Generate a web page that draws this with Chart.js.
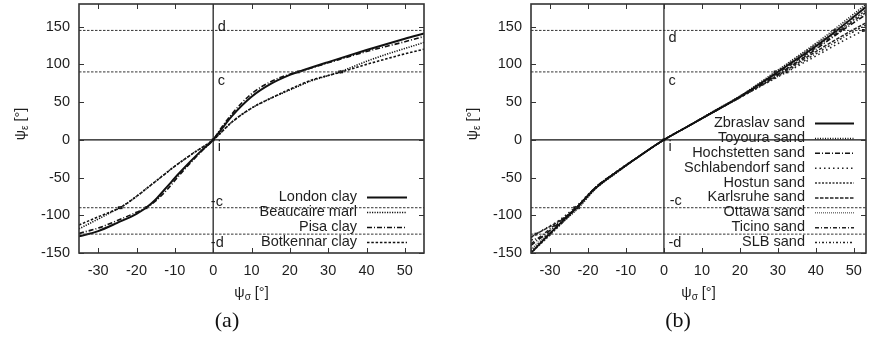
<!DOCTYPE html>
<html><head><meta charset="utf-8">
<script src="https://cdn.jsdelivr.net/npm/chart.js@4/dist/chart.umd.min.js"></script>
<style>
html,body{margin:0;padding:0;background:#fff;width:870px;height:342px;overflow:hidden}
canvas{position:absolute;top:0}
#ca{left:0}#cb{left:435px}
</style></head><body>
<canvas id="ca" width="435" height="342"></canvas>
<canvas id="cb" width="435" height="342"></canvas>
<script>
// ---- data ----
const xTicks = [-30,-20,-10,0,10,20,30,40,50];
const yTicks = [-150,-100,-50,0,50,100,150];
const xRangeA = [-35,55];
const xRangeB = [-35,53.2];
const yRange = [-150,180];
const refLevels = [145,90,-90,-125];

const clayNames = ['London clay','Beaucaire marl','Pisa clay','Botkennar clay'];
const londonClay = [[-35,-128],[-30,-121],[-25,-110],[-20,-98],[-17.5,-90],[-15,-79],[-12,-62],[-9,-45],[-6,-29],[-3,-14],[0,0],[2,13],[5,32],[10,57],[15,74],[20,86],[22.2,90],[30,103],[40,119],[50,134],[55,141]];
const beaucaireMarl = [[-35,-118],[-30,-105],[-27,-97],[-24,-89],[-20,-75],[-17.5,-65],[-15,-55],[-10,-35],[-5,-17],[0,0],[5,24],[10,42],[15,55],[20,66],[25,77],[33,90],[40,104],[45,113],[50,121],[55,129]];
const pisaClay = [[-35,-124],[-30,-117],[-25,-107],[-20,-96],[-17.5,-90],[-15,-81],[-12,-66],[-9,-48],[-6,-31],[-3,-15],[0,0],[2,15],[5,35],[10,61],[15,77],[20,87],[22.2,90],[30,102],[40,117],[50,130],[55,137]];
const botkennarClay = [[-35,-113],[-30,-102],[-27,-96],[-24,-89],[-20,-75],[-17.5,-65],[-15,-55],[-10,-35],[-5,-17],[0,0],[5,24],[10,42],[15,55],[20,67],[25,78],[33.5,90],[40,100],[45,107],[50,114],[55,120]];
const clayMarkers = [[-24.5,-90],[-24,-90],[-17.5,-90],[0,0],[22.2,90],[33,90],[33.5,90]];

const sandNames = ['Zbraslav sand','Toyoura sand','Hochstetten sand','Schlabendorf sand','Hostun sand','Karlsruhe sand','Ottawa sand','Ticino sand','SLB sand'];
const zbraslavSand = [[-35,-150],[-30,-124],[-23,-90],[-18,-64],[-12,-41],[-6,-20],[0,0],[6,17],[12,34],[20,57],[30,90],[40,124],[45,143],[50,163],[53.2,176]];
const toyouraSand = [[-35,-147],[-30.2,-125],[-22.5,-90],[-18,-65],[-12,-42],[-6,-20],[0,0],[6,17],[12,35],[20,58],[29.3,90],[40,128],[44.5,145],[50,167],[53.2,180]];
const hochstettenSand = [[-35,-140],[-30,-120],[-23,-90],[-18,-63],[-12,-41],[-6,-20],[0,0],[6,17],[12,34],[20,57],[31,90],[40,120],[47,145],[53.2,166]];
const schlabendorfSand = [[-35,-130],[-33.7,-125],[-28,-108],[-23.5,-90],[-18,-63],[-12,-40],[-6,-20],[0,0],[6,17],[12,34],[20,56],[32.4,90],[40,111],[46,128],[52.5,145],[53.2,147]];
const hostunSand = [[-35,-150],[-30,-126],[-23,-90],[-18,-64],[-12,-41],[-6,-20],[0,0],[6,17],[12,34],[20,57],[30,90],[40,126],[46,145],[53.2,172]];
const karlsruheSand = [[-35,-129],[-33.7,-125],[-28,-109],[-23,-90],[-18,-63],[-12,-41],[-6,-20],[0,0],[6,17],[12,34],[20,56],[31.5,90],[40,117],[49.5,145],[53.2,155]];
const ottawaSand = [[-35,-145],[-30,-122],[-22.5,-90],[-18,-65],[-12,-42],[-6,-20],[0,0],[6,17],[12,35],[20,58],[29.5,90],[40,127],[45,145],[53.2,178]];
const ticinoSand = [[-35,-138],[-30,-118],[-23,-90],[-18,-64],[-12,-41],[-6,-20],[0,0],[6,17],[12,34],[20,57],[30.5,90],[40,122],[46.5,145],[53.2,169]];
const slbSand = [[-35,-133],[-30.2,-125],[-23,-90],[-18,-63],[-12,-41],[-6,-20],[0,0],[6,17],[12,34],[20,56],[32,90],[40,114],[50.5,145],[53.2,152]];
const sandMarkers = [[-33.7,-125],[-30.2,-125],[-23.5,-90],[-22.5,-90],[0,0],[29.3,90],[32.4,90],[45,145],[46.5,145],[52.5,145]];

const pointLabelsA = [['d',1.2,150],['c',1.2,78],['i',1.2,-10],['-c',-0.6,-82],['-d',-0.6,-137]];
const pointLabelsB = [['d',1.2,135],['c',1.2,78],['i',1.2,-10],['-c',1.5,-81],['-d',1.2,-137]];

// ---- styles ----
const FONT = '"Liberation Sans", Arial, sans-serif';
const TXT = '#1e1e1e';
const clayStyles = [
  {dash:[], w:2},
  {dash:[1.2,1.3], w:1.6},
  {dash:[5,2,1,2], w:1.6},
  {dash:[2.5,1.8], w:1.6}
];
const sandStyles = [
  {dash:[], w:1.8, c:'#111'},
  {dash:[1,1.5], w:1.5, c:'#111'},
  {dash:[5,2,1,2], w:1.5, c:'#111'},
  {dash:[1.5,3], w:1.5, c:'#222'},
  {dash:[2,1.5], w:1.5, c:'#333'},
  {dash:[3.5,1.5], w:1.5, c:'#222'},
  {dash:[1,1], w:1.5, c:'#777'},
  {dash:[4,2,1,2], w:1.5, c:'#222'},
  {dash:[2,2,1,2], w:1.5, c:'#222'}
];

const toXY = arr => arr.map(p => ({x:p[0], y:p[1]}));

function refDatasets(xr){
  const ds = refLevels.map(v => ({data:toXY([[xr[0],v],[xr[1],v]]), borderColor:'#333', borderWidth:1, borderDash:[2.5,1.5], showLine:true, pointRadius:0, tension:0}));
  ds.push({data:toXY([[xr[0],0],[xr[1],0]]), borderColor:'#111', borderWidth:1.2, showLine:true, pointRadius:0});
  ds.push({data:toXY([[0,yRange[0]],[0,yRange[1]]]), borderColor:'#111', borderWidth:1.2, showLine:true, pointRadius:0});
  return ds;
}
function curveDatasets(series, names, styles){
  return series.map((s,i) => ({label:names[i], data:toXY(s), borderColor:styles[i].c||'#111', borderWidth:styles[i].w, borderDash:styles[i].dash, showLine:true, pointRadius:0, cubicInterpolationMode:'monotone', isCurve:true}));
}
function markerDataset(m){
  return {data:toXY(m), showLine:false, pointStyle:'rect', pointRadius:2, backgroundColor:'#111', borderColor:'#111', borderWidth:0};
}

function drawSubText(ctx, cx, cy, base, sub, tail, rot){
  ctx.save(); ctx.translate(cx,cy); if(rot) ctx.rotate(-Math.PI/2);
  const f1 = '14.5px ' + FONT, f2 = '10px ' + FONT;
  ctx.font=f1; const w1=ctx.measureText(base).width, w3=ctx.measureText(tail).width;
  ctx.font=f2; const w2=ctx.measureText(sub).width;
  const x0 = -(w1+w2+w3)/2;
  ctx.fillStyle=TXT; ctx.textBaseline='alphabetic'; ctx.textAlign='left';
  ctx.font=f1; ctx.fillText(base,x0,5);
  ctx.font=f2; ctx.fillText(sub,x0+w1,8);
  ctx.font=f1; ctx.fillText(tail,x0+w1+w2,5);
  ctx.restore();
}

function makePlugin(opts){
  return {
    id:'deco',
    afterDatasetsDraw(chart){
      const {ctx, chartArea:a, scales:{x,y}} = chart;
      ctx.save();
      ctx.strokeStyle='#333'; ctx.lineWidth=1;
      ctx.beginPath();
      xTicks.forEach(v=>{const p=Math.round(x.getPixelForValue(v))+0.5; ctx.moveTo(p,a.bottom); ctx.lineTo(p,a.bottom-5); ctx.moveTo(p,a.top); ctx.lineTo(p,a.top+5);});
      yTicks.forEach(v=>{const p=Math.round(y.getPixelForValue(v))+0.5; ctx.moveTo(a.left,p); ctx.lineTo(a.left+5,p); ctx.moveTo(a.right,p); ctx.lineTo(a.right-5,p);});
      ctx.stroke();
      ctx.lineWidth=1.6; ctx.strokeStyle='#333';
      ctx.strokeRect(a.left, a.top, a.right-a.left, a.bottom-a.top);
      ctx.fillStyle=TXT; ctx.font='14.5px '+FONT; ctx.textBaseline='middle'; ctx.textAlign='left';
      opts.labels.forEach(l=>ctx.fillText(l[0], x.getPixelForValue(l[1]), y.getPixelForValue(l[2])));
      const curves = chart.data.datasets.filter(d=>d.isCurve);
      curves.forEach((d,i)=>{
        const yy = a.bottom + opts.legBottom + i*opts.legStep;
        ctx.textAlign='right'; ctx.fillStyle=TXT;
        ctx.fillText(d.label, a.right - opts.legText, yy);
        ctx.beginPath(); ctx.setLineDash(d.borderDash||[]); ctx.lineWidth=d.borderWidth; ctx.strokeStyle=d.borderColor;
        ctx.moveTo(a.right-opts.legS1, yy+0.5); ctx.lineTo(a.right-opts.legS2, yy+0.5); ctx.stroke();
        ctx.setLineDash([]);
      });
      ctx.restore();
      drawSubText(ctx, opts.yTitleX, 124, 'ψ', 'ε', ' [°]', true);
      drawSubText(ctx, (a.left+a.right)/2, 292, 'ψ', 'σ', ' [°]', false);
      ctx.save();
      ctx.font='22px "Liberation Serif", "DejaVu Serif", serif'; ctx.fillStyle='#111'; ctx.textAlign='center'; ctx.textBaseline='middle';
      ctx.fillText(opts.caption, opts.capX, 321);
      ctx.restore();
    }
  };
}

function zeroPad(s){ s.paddingTop=0; s.paddingBottom=0; s.paddingLeft=0; s.paddingRight=0; }

function makeScales(xr, yw){
  return {
    x:{type:'linear', min:xr[0], max:xr[1],
       afterBuildTicks:s=>{s.ticks=xTicks.map(v=>({value:v}));},
       afterFit:s=>{s.height=89; zeroPad(s);},
       grid:{display:false, drawTicks:false}, border:{display:false},
       ticks:{font:{family:FONT,size:14.5}, color:TXT, padding:9, maxRotation:0, autoSkip:false, callback:v=>String(v)}},
    y:{type:'linear', min:yRange[0], max:yRange[1],
       afterBuildTicks:s=>{s.ticks=yTicks.map(v=>({value:v}));},
       afterFit:s=>{s.width=yw; zeroPad(s);},
       grid:{display:false, drawTicks:false}, border:{display:false},
       ticks:{font:{family:FONT,size:14.5}, color:TXT, padding:9, autoSkip:false, callback:v=>String(v)}}
  };
}

const common = {responsive:false, animation:false, devicePixelRatio:1,
  plugins:{legend:{display:false}, tooltip:{enabled:false}}};

new Chart(document.getElementById('ca'), {
  type:'scatter',
  data:{datasets:[...refDatasets(xRangeA), ...curveDatasets([londonClay,beaucaireMarl,pisaClay,botkennarClay], clayNames, clayStyles), markerDataset(clayMarkers)]},
  options:{...common, layout:{padding:{top:3,right:11,left:0,bottom:0}}, scales:makeScales(xRangeA,79)},
  plugins:[makePlugin({labels:pointLabelsA, legBottom:-56, legStep:15, legText:67, legS1:57, legS2:17, yTitleX:20, caption:'(a)', capX:227})]
});

new Chart(document.getElementById('cb'), {
  type:'scatter',
  data:{datasets:[...refDatasets(xRangeB), ...curveDatasets([zbraslavSand,toyouraSand,hochstettenSand,schlabendorfSand,hostunSand,karlsruheSand,ottawaSand,ticinoSand,slbSand], sandNames, sandStyles), markerDataset(sandMarkers)]},
  options:{...common, layout:{padding:{top:3,right:0,left:0,bottom:0}}, scales:makeScales(xRangeB,96)},
  plugins:[makePlugin({labels:pointLabelsB, legBottom:-130, legStep:14.875, legText:61, legS1:51, legS2:12, yTitleX:37, caption:'(b)', capX:243})]
});
</script>
</body></html>
